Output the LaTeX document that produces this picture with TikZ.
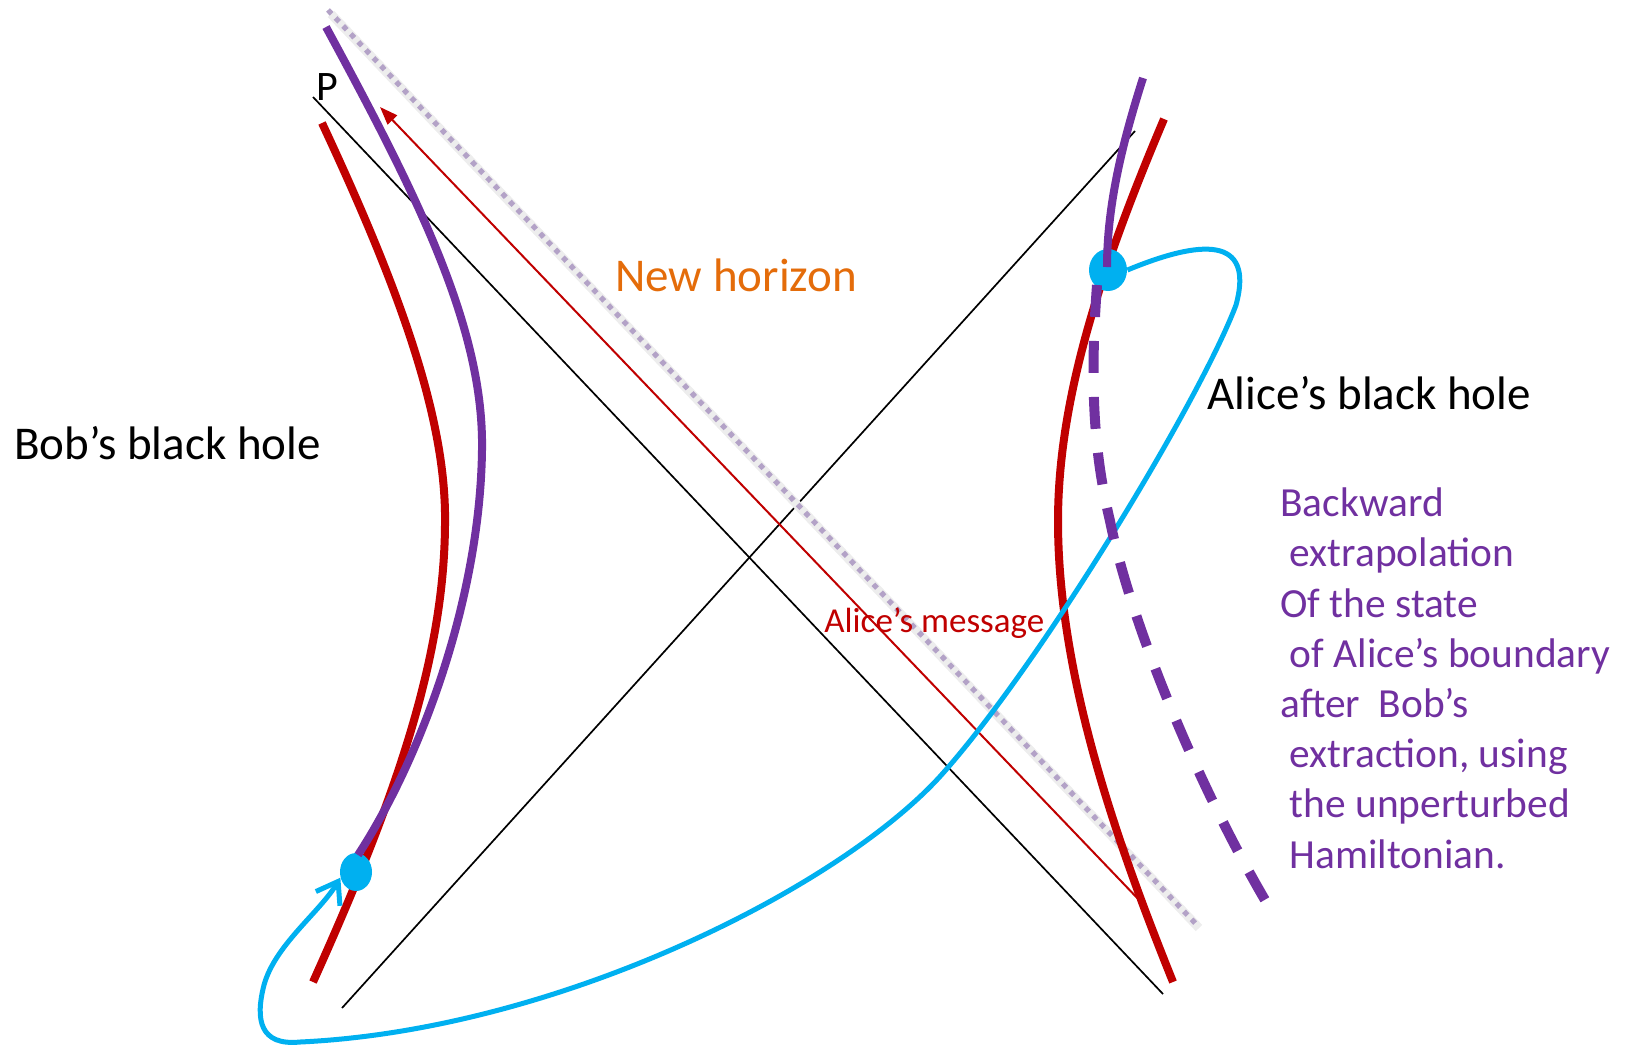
\documentclass[tikz,border=0pt]{standalone}
\usepackage{fontspec}
\setmainfont{Carlito}
\usepackage{xcolor}
\usetikzlibrary{arrows.meta, shapes.geometric}

\definecolor{bhred}{HTML}{C00000}
\definecolor{bhpurple}{HTML}{7030A0}
\definecolor{bhblue}{HTML}{00B0F0}
\definecolor{horizonorange}{HTML}{E46C0A}
\definecolor{dotlavender}{HTML}{B3A2C7}

\begin{document}
\begin{tikzpicture}[x=0.5pt, y=-0.5pt,
  every node/.style={inner sep=0pt},
  horizon/.style={line width=0.85pt, black},
  redworld/.style={line width=4pt, bhred},
  purpleworld/.style={line width=4pt, bhpurple},
  bluepath/.style={line width=2.5pt, bhblue},
  bluedot/.style={ellipse, fill=bhblue, draw=none},
  bigtext/.style={font=\fontsize{23.5}{28}\selectfont}]
  \useasboundingbox (0,0) rectangle (1636,1045);
  % ---------- horizons ----------
  \coordinate (pcorner) at (313,97);
  \coordinate (horizonR) at (1163,994);
  \coordinate (horizonBL) at (342,1008);
  \coordinate (horizonTR) at (1135,131);
  \draw[horizon] (pcorner) -- (horizonR);
  \draw[horizon] (horizonBL) -- (horizonTR);
  % new horizon, dotted (with a faint shadow)
  \draw[line width=4.5pt, black!7] (331,14) -- (1199,928);
  \draw[line width=2.6pt, dotlavender, dash pattern=on 2.6pt off 2.9pt] (328,10) -- (1196,924);
  % ---------- Alice's message ----------
  \coordinate (msgstart) at (1142,903);
  \coordinate (msgtip) at (380,107);
  \draw[line width=1pt, bhred, -{Triangle[length=9pt,width=6.5pt]}] (msgstart) -- (msgtip);
  % ---------- boundaries (red) ----------
  \draw[redworld] (322,123) .. controls (400,290) and (447,420) .. (445,525)
    .. controls (444,660) and (395,800) .. (313,982);
  \draw[redworld] (1164,119) .. controls (1100,270) and (1058,400) .. (1058,521)
    .. controls (1058,680) and (1120,850) .. (1173,982);
  % ---------- dots and the blue path ----------
  \node[bluedot, minimum width=16pt, minimum height=19pt] (bobdot) at (356,872) {};
  \node[bluedot, minimum width=19pt, minimum height=21pt] (alicedot) at (1108,270) {};
  \draw[bluepath, -{Straight Barb[length=10pt,width=14pt]}] (alicedot.east)
    .. controls (1200,240) and (1255,235) .. (1236,305)
    .. controls (1200,400) and (1043,660) .. (944,772)
    .. controls (845,885) and (560,1030) .. (300,1042)
    .. controls (260,1046) and (255,1020) .. (264,985)
    .. controls (275,945) and (320,912) .. (bobdot.200);
  % ---------- purple trajectories ----------
  \draw[purpleworld] (326,27) .. controls (420,200) and (484,330) .. (482,450)
    .. controls (480,600) and (420,760) .. (358,855);
  \draw[purpleworld] (1143,78) .. controls (1120,150) and (1107,210) .. (1107,267);
  \draw[purpleworld, line width=5pt, dash pattern=on 16pt off 12pt] (1097,285)
    .. controls (1090,380) and (1093,450) .. (1110,521)
    .. controls (1130,620) and (1195,780) .. (1265,900);
  % ---------- labels ----------
  \node[anchor=base west, font=\fontsize{21}{25}\selectfont] (plabel) at (316,100) {P};
  \node[bigtext, anchor=base west, text=horizonorange] (newhorizon) at (615,291) {New horizon};
  \node[bigtext, anchor=base west] (boblabel) at (14,459) {Bob’s black hole};
  \node[bigtext, anchor=base west] (alicelabel) at (1207,409) {Alice’s black hole};
  \node[anchor=base west, text=bhred, font=\fontsize{17.5}{21}\selectfont] (msglabel) at (824,632) {Alice’s message};
  \node[anchor=base west, align=left, text=bhpurple, font=\fontsize{20.7}{25.1}\selectfont] (extraplabel)
    at (1280,868) {Backward\\~extrapolation\\Of the state\\~of Alice’s boundary\\after~~Bob’s\\
    ~extraction, using\\~the unperturbed\\~Hamiltonian.};
\end{tikzpicture}
\end{document}
